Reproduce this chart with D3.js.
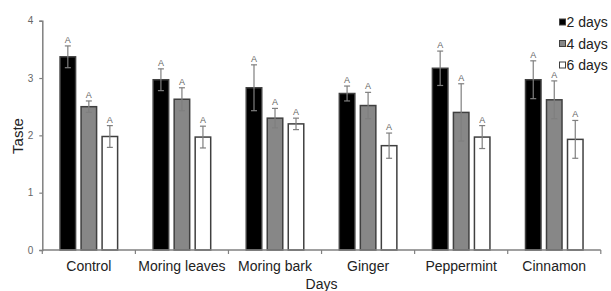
<!DOCTYPE html>
<html><head><meta charset="utf-8">
<script src="https://cdn.jsdelivr.net/npm/d3@7"></script>
<style>body{margin:0;background:#fff}svg{display:block;font-family:"Liberation Sans",Arial,sans-serif}</style>
</head><body><svg id="c" width="611" height="291"></svg>
<script>
const categories = ["Control","Moring leaves","Moring bark","Ginger","Peppermint","Cinnamon"];
const seriesNames = ["2 days","4 days","6 days"];
const values2 = [3.37,2.97,2.83,2.73,3.17,2.97];
const values4 = [2.50,2.63,2.30,2.52,2.40,2.62];
const values6 = [1.98,1.97,2.20,1.82,1.97,1.93];
const err2 = [0.19,0.19,0.40,0.13,0.30,0.33];
const err4 = [0.10,0.20,0.17,0.23,0.50,0.33];
const err6 = [0.19,0.19,0.10,0.22,0.20,0.33];
const letters = ["A","A","A"];
const yTicks = [0,1,2,3,4];
const fills = ["#000000","#878787","#ffffff"];

const values = [values2, values4, values6];
const errs = [err2, err4, err6];
const svg = d3.select("#c");
const x0 = d3.scaleBand().domain(categories).range([42.3, 600.8]).paddingInner(0).paddingOuter(0);
const x1 = d3.scaleBand().domain(seriesNames).range([0, x0.bandwidth()]).paddingInner(0.19).paddingOuter(0.81);
const y = d3.scaleLinear().domain([0,4]).range([250, 20.7]);

// bars
seriesNames.forEach((s, si) => {
  const g = svg.append("g");
  categories.forEach((c, ci) => {
    const v = values[si][ci], e = errs[si][ci];
    const bx = x0(c) + x1(s), bw = x1.bandwidth();
    g.append("rect").attr("x", bx + 0.75).attr("y", y(v)).attr("width", bw - 1.5).attr("height", y(0) - y(v))
      .attr("fill", fills[si]).attr("stroke", "#404040").attr("stroke-width", 1.5);
    const cx = bx + bw / 2;
    const eg = svg.append("g").attr("stroke", "#7f7f7f").attr("stroke-width", 1.2);
    eg.append("line").attr("x1", cx).attr("x2", cx).attr("y1", y(v + e)).attr("y2", y(v - e));
    eg.append("line").attr("x1", cx - 3).attr("x2", cx + 3).attr("y1", y(v + e)).attr("y2", y(v + e));
    eg.append("line").attr("x1", cx - 3).attr("x2", cx + 3).attr("y1", y(v - e)).attr("y2", y(v - e));
    svg.append("text").attr("x", cx).attr("y", y(v + e) - 3).attr("text-anchor", "middle")
      .attr("font-size", 9).attr("fill", "#666").text(letters[si]);
  });
});

// y axis
const ya = svg.append("g").attr("transform", "translate(42.3,0)")
  .call(d3.axisLeft(y).tickValues(yTicks).tickFormat(d3.format("d")).tickSize(3).tickPadding(6));
ya.select(".domain").attr("stroke", "#808080").attr("stroke-width", 1.5);
ya.selectAll(".tick line").attr("stroke", "#808080").attr("stroke-width", 1.2);
ya.selectAll("text").attr("font-size", 10).attr("fill", "#666").attr("font-family", "Liberation Sans, Arial, sans-serif");

// x axis
const xa = svg.append("g").attr("transform", "translate(0,250)");
xa.append("line").attr("x1", 42.3).attr("x2", 600.8).attr("y1", 0).attr("y2", 0).attr("stroke", "#808080").attr("stroke-width", 1.5);
const bounds = categories.map(c => x0(c)).concat([x0(categories[categories.length-1]) + x0.bandwidth()]);
xa.selectAll("line.tk").data(bounds).enter().append("line").attr("class","tk")
  .attr("x1", d => d).attr("x2", d => d).attr("y1", 0).attr("y2", 4).attr("stroke", "#808080").attr("stroke-width", 1.2);
xa.selectAll("text").data(categories).enter().append("text")
  .attr("x", d => x0(d) + x0.bandwidth() / 2).attr("y", 21).attr("text-anchor", "middle")
  .attr("font-size", 14).attr("fill", "#222").text(d => d);

svg.append("text").attr("x", 321.5).attr("y", 289).attr("text-anchor", "middle").attr("font-size", 14).attr("fill", "#222").text("Days");
svg.append("text").attr("transform", "translate(23,136) rotate(-90)").attr("text-anchor", "middle").attr("font-size", 15).attr("fill", "#222").text("Taste");

// legend
const lg = svg.append("g").attr("transform", "translate(559,0)");
seriesNames.forEach((s, i) => {
  const cy = 22 + i * 21.5;
  lg.append("rect").attr("x", 0.5).attr("y", cy - 3).attr("width", 6).attr("height", 6)
    .attr("fill", fills[i]).attr("stroke", "#404040").attr("stroke-width", 1);
  lg.append("text").attr("x", 7.5).attr("y", cy + 5).attr("font-size", 14).attr("fill", "#222").text(s);
});
</script></body></html>
